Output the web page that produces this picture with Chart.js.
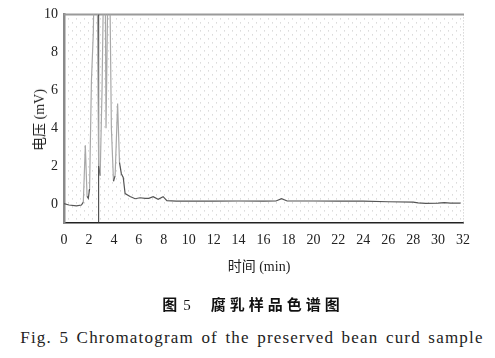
<!DOCTYPE html>
<html>
<head>
<meta charset="utf-8">
<script src="https://cdn.jsdelivr.net/npm/chart.js@4.4.0/dist/chart.umd.min.js"></script>
<style>
  body { margin: 0; background: #fff; }
  #wrap { position: relative; width: 495px; height: 358px; background: #fff; }
  #c { position: absolute; left: 0; top: 0; }
  .txt { position: absolute; white-space: nowrap; color: #222; font-family: "Liberation Serif", "Noto Sans CJK SC", serif; }
  #ytitle { left: 38px; top: 120px; font-size: 14px; transform: translate(-50%, -50%) rotate(-90deg); }
  #xtitle { left: 259px; top: 265px; font-size: 14px; transform: translate(-50%, -50%); }
  #cap1 { left: 253px; top: 303px; font-size: 15px; font-weight: bold; font-family: "Noto Sans CJK SC", sans-serif; transform: translate(-50%, -50%); color: #111; }
  #cap1 .gap { display: inline-block; width: 20px; }
  #cap1 .num { font-family: "Liberation Serif", serif; font-weight: normal; margin-left: 6px; }
  #cap1 .zh { letter-spacing: 4px; }
  #cap2 { left: 252px; top: 338px; font-size: 17px; transform: translate(-50%, -50%); letter-spacing: 1.2px; word-spacing: 2px; }
</style>
</head>
<body>
<div id="wrap">
  <canvas id="c" width="495" height="280"></canvas>
  <div class="txt" id="ytitle">电压 (mV)</div>
  <div class="txt" id="xtitle">时间 (min)</div>
  <div class="txt" id="cap1">图<span class="num">5</span><span class="gap"></span><span class="zh">腐乳样品色谱图</span></div>
  <div class="txt" id="cap2">Fig. 5 Chromatogram of the preserved bean curd sample</div>
</div>
<script>
// retention time (min) and detector signal (mV)
const timeMin = [0, 0.4, 1.0, 1.4, 1.55, 1.71, 1.85, 1.95, 2.05, 2.2, 2.35, 2.45, 2.65, 2.78, 2.9,
  3.05, 3.2, 3.3, 3.37, 3.45, 3.55, 3.65, 3.8, 3.97, 4.1, 4.3, 4.45, 4.6, 4.75, 4.9,
  5.3, 5.7, 6.1, 6.5, 6.8, 7.15, 7.55, 7.95, 8.25, 9, 10, 12, 14, 16, 17, 17.45, 17.9,
  20, 22, 24, 26, 28, 28.4, 29, 30, 30.5, 31, 31.8];
const voltage = [0.02, -0.05, -0.1, -0.05, 0.1, 3.1, 0.4, 0.3, 0.8, 6.5, 9.0, 13, 13, 2.0, 1.5,
  6, 13, 13, 4.0, 8, 13, 13, 4, 1.2, 1.5, 5.3, 2.2, 1.6, 1.4, 0.55,
  0.4, 0.28, 0.33, 0.3, 0.3, 0.39, 0.25, 0.39, 0.18, 0.15, 0.15, 0.15, 0.16, 0.15, 0.16, 0.28, 0.16,
  0.16, 0.15, 0.15, 0.12, 0.1, 0.06, 0.04, 0.05, 0.07, 0.05, 0.05];

// vertical marker line
const markerTime = 2.78;

const xTicks = [0, 2, 4, 6, 8, 10, 12, 14, 16, 18, 20, 22, 24, 26, 28, 30, 32];
const yTicks = [0, 2, 4, 6, 8, 10];

const trace = timeMin.map((t, i) => ({ x: t, y: voltage[i] }));

// dotted background texture + top frame line
const paperPlugin = {
  id: 'paper',
  beforeDatasetsDraw(chart) {
    const { ctx, chartArea: a } = chart;
    ctx.save();
    ctx.fillStyle = '#c4c4c4';
    let row = 0;
    for (let y = a.top + 4; y < a.bottom - 1; y += 4, row++) {
      for (let x = a.left + 4 + (row % 2) * 4; x < a.right; x += 8) {
        ctx.fillRect(x, y, 1, 1);
      }
    }
    for (let y = a.top; y < a.bottom; y += 3) ctx.fillRect(a.right, y, 1, 1);
    ctx.strokeStyle = '#9a9a9a';
    ctx.lineWidth = 2;
    ctx.beginPath();
    ctx.moveTo(a.left, a.top);
    ctx.lineTo(a.right + 1, a.top);
    ctx.stroke();
    ctx.restore();
  }
};

Chart.defaults.font.family = '"Liberation Serif"';
const tickFont = { family: '"Liberation Serif"', size: 14 };

new Chart(document.getElementById('c'), {
  type: 'line',
  data: {
    datasets: [
      {
        data: trace,
        borderWidth: 1.2,
        borderColor: '#555',
        segment: {
          borderColor: c => Math.abs(c.p1.parsed.y - c.p0.parsed.y) > 1 ? '#a8a8a8' : '#555'
        },
        pointRadius: 0,
        tension: 0
      },
      {
        data: [{ x: markerTime, y: -1 }, { x: markerTime, y: 10 }],
        borderWidth: 1,
        borderColor: '#333',
        pointRadius: 0
      }
    ]
  },
  options: {
    responsive: false,
    animation: false,
    devicePixelRatio: 1,
    layout: { padding: { top: 14, right: 32, left: 0, bottom: 0 } },
    plugins: { legend: { display: false }, tooltip: { enabled: false } },
    scales: {
      x: {
        type: 'linear',
        min: 0,
        max: 32,
        afterBuildTicks: s => { s.ticks = xTicks.map(v => ({ value: v })); },
        afterFit: s => { s.height = 57; },
        grid: { display: false, drawTicks: false },
        border: { display: true, color: '#222', width: 1.5 },
        ticks: { font: tickFont, color: '#222', padding: 9, maxRotation: 0 }
      },
      y: {
        type: 'linear',
        min: -1,
        max: 10,
        afterBuildTicks: s => { s.ticks = yTicks.map(v => ({ value: v })); },
        afterFit: s => { s.width = 64; },
        grid: { display: false, drawTicks: false },
        border: { display: true, color: '#8a8a8a', width: 2.5 },
        ticks: { font: tickFont, color: '#222', padding: 6 }
      }
    }
  },
  plugins: [paperPlugin]
});
</script>
</body>
</html>
